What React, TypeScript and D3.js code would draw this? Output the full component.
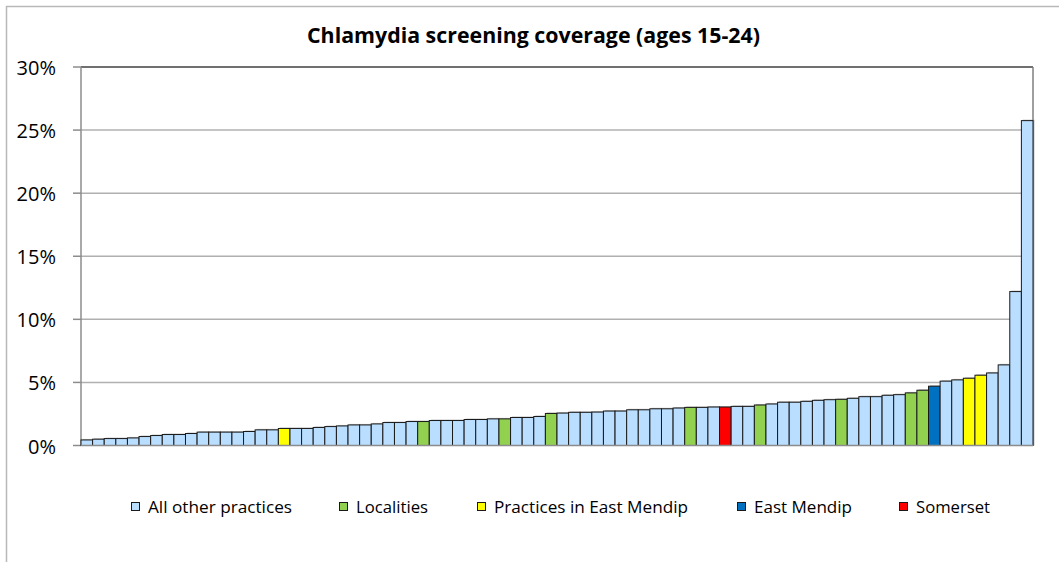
import React from "react";
import * as d3 from "d3";

// coverage per practice / area, sorted ascending (in %)
const coverage = [
  0.44, 0.5, 0.55, 0.55, 0.6, 0.71, 0.79, 0.87, 0.87, 0.95,
  1.06, 1.06, 1.06, 1.06, 1.11, 1.24, 1.24, 1.35, 1.35, 1.35,
  1.43, 1.5, 1.55, 1.63, 1.63, 1.71, 1.82, 1.82, 1.9, 1.9,
  1.98, 1.98, 1.98, 2.06, 2.06, 2.11, 2.11, 2.22, 2.22, 2.3,
  2.54, 2.57, 2.63, 2.63, 2.65, 2.73, 2.73, 2.83, 2.83, 2.91,
  2.91, 2.97, 3.02, 3.02, 3.05, 3.05, 3.1, 3.1, 3.21, 3.29,
  3.43, 3.43, 3.5, 3.58, 3.63, 3.66, 3.74, 3.87, 3.87, 3.98,
  4.03, 4.17, 4.38, 4.7, 5.1, 5.2, 5.33, 5.57, 5.75, 6.39,
  12.2, 25.75,
];

// which bars belong to which highlighted group
const localityBars = [29, 36, 40, 52, 58, 65, 71, 72];
const eastMendipPracticeBars = [17, 76, 77];
const eastMendipBars = [73];
const somersetBars = [55];

const seriesNames = [
  "All other practices",
  "Localities",
  "Practices in East Mendip",
  "East Mendip",
  "Somerset",
];
const seriesColors = ["#B9DEFF", "#92D050", "#FFFF00", "#0070C0", "#FF0000"];

const yTicks = [0, 5, 10, 15, 20, 25, 30];

const groupOf = (i: number) => {
  if (localityBars.includes(i)) return 1;
  if (eastMendipPracticeBars.includes(i)) return 2;
  if (eastMendipBars.includes(i)) return 3;
  if (somersetBars.includes(i)) return 4;
  return 0;
};

const bars = coverage.map((v, i) => ({ id: i, value: v, group: groupOf(i) }));

// legend layout (square x, text x, text width)
const legendItems = [
  { sq: 131, tx: 148, w: 144 },
  { sq: 339, tx: 356, w: 72 },
  { sq: 477, tx: 494, w: 194 },
  { sq: 737, tx: 754, w: 98 },
  { sq: 899, tx: 916, w: 74 },
];

export default function App() {
  const width = 1059;
  const height = 562;
  const plot = { left: 81, right: 1033, top: 67, bottom: 445.5 };

  const x = d3
    .scaleBand<number>()
    .domain(bars.map((d) => d.id))
    .range([plot.left, plot.right])
    .padding(0);

  const y = d3.scaleLinear().domain([0, 30]).range([plot.bottom, plot.top]);

  const font = "'Open Sans', 'Liberation Sans', sans-serif";

  return (
    <svg
      width={width}
      height={height}
      style={{ position: "absolute", left: 0, top: 0, background: "#fff" }}
    >
      {/* outer chart frame */}
      <rect x={6.5} y={6.5} width={1100} height={700} fill="#fff" stroke="#b8b8b8" strokeWidth={1.5} />

      <text
        x={533.5}
        y={43}
        textAnchor="middle"
        fontFamily={font}
        fontWeight="bold"
        fontSize={21}
        textLength={453}
        lengthAdjust="spacingAndGlyphs"
        fill="#000"
      >
        Chlamydia screening coverage (ages 15-24)
      </text>

      {/* gridlines */}
      {yTicks.slice(1, -1).map((t) => (
        <line key={t} x1={plot.left} x2={plot.right} y1={y(t)} y2={y(t)} stroke="#b0b0b0" strokeWidth={1.5} />
      ))}

      {/* plot border top & right */}
      <line x1={plot.left} x2={plot.right} y1={plot.top} y2={plot.top} stroke="#404040" strokeWidth={1.5} />
      <line x1={plot.right} x2={plot.right} y1={plot.top} y2={plot.bottom} stroke="#7f7f7f" strokeWidth={1.5} />

      {/* y axis */}
      <line x1={plot.left} x2={plot.left} y1={plot.top} y2={plot.bottom} stroke="#8c8c8c" strokeWidth={1.5} />
      {yTicks.map((t) => (
        <g key={t}>
          <line x1={73} x2={plot.left} y1={y(t)} y2={y(t)} stroke="#8c8c8c" strokeWidth={1.5} />
          <text
            x={56}
            y={y(t) + 8}
            textAnchor="end"
            fontFamily={font}
            fontSize={20}
            fill="#000"
          >
            {t}%
          </text>
        </g>
      ))}

      {/* bars with a soft shadow */}
      {bars.map((d) => (
        <rect
          key={"s" + d.id}
          x={(x(d.id) as number) + 1.5}
          y={y(d.value) - 1}
          width={x.bandwidth()}
          height={plot.bottom - y(d.value) + 1}
          fill="#8a8a8a"
          opacity={0.5}
        />
      ))}
      {bars.map((d) => (
        <rect
          key={d.id}
          x={x(d.id)}
          y={y(d.value)}
          width={x.bandwidth()}
          height={plot.bottom - y(d.value)}
          fill={seriesColors[d.group]}
          stroke="#1a1a1a"
          strokeWidth={1}
        />
      ))}
      <line x1={plot.left} x2={plot.right} y1={plot.bottom} y2={plot.bottom} stroke="#8c8c8c" strokeWidth={1.5} />

      {/* legend */}
      {legendItems.map((it, i) => (
        <g key={i}>
          <rect x={it.sq + 0.5} y={502.5} width={8} height={8} fill={seriesColors[i]} stroke="#1a1a1a" strokeWidth={1} />
          <text
            x={it.tx}
            y={513}
            fontFamily={font}
            fontSize={16}
            textLength={it.w}
            lengthAdjust="spacingAndGlyphs"
            fill="#000"
          >
            {seriesNames[i]}
          </text>
        </g>
      ))}
    </svg>
  );
}
